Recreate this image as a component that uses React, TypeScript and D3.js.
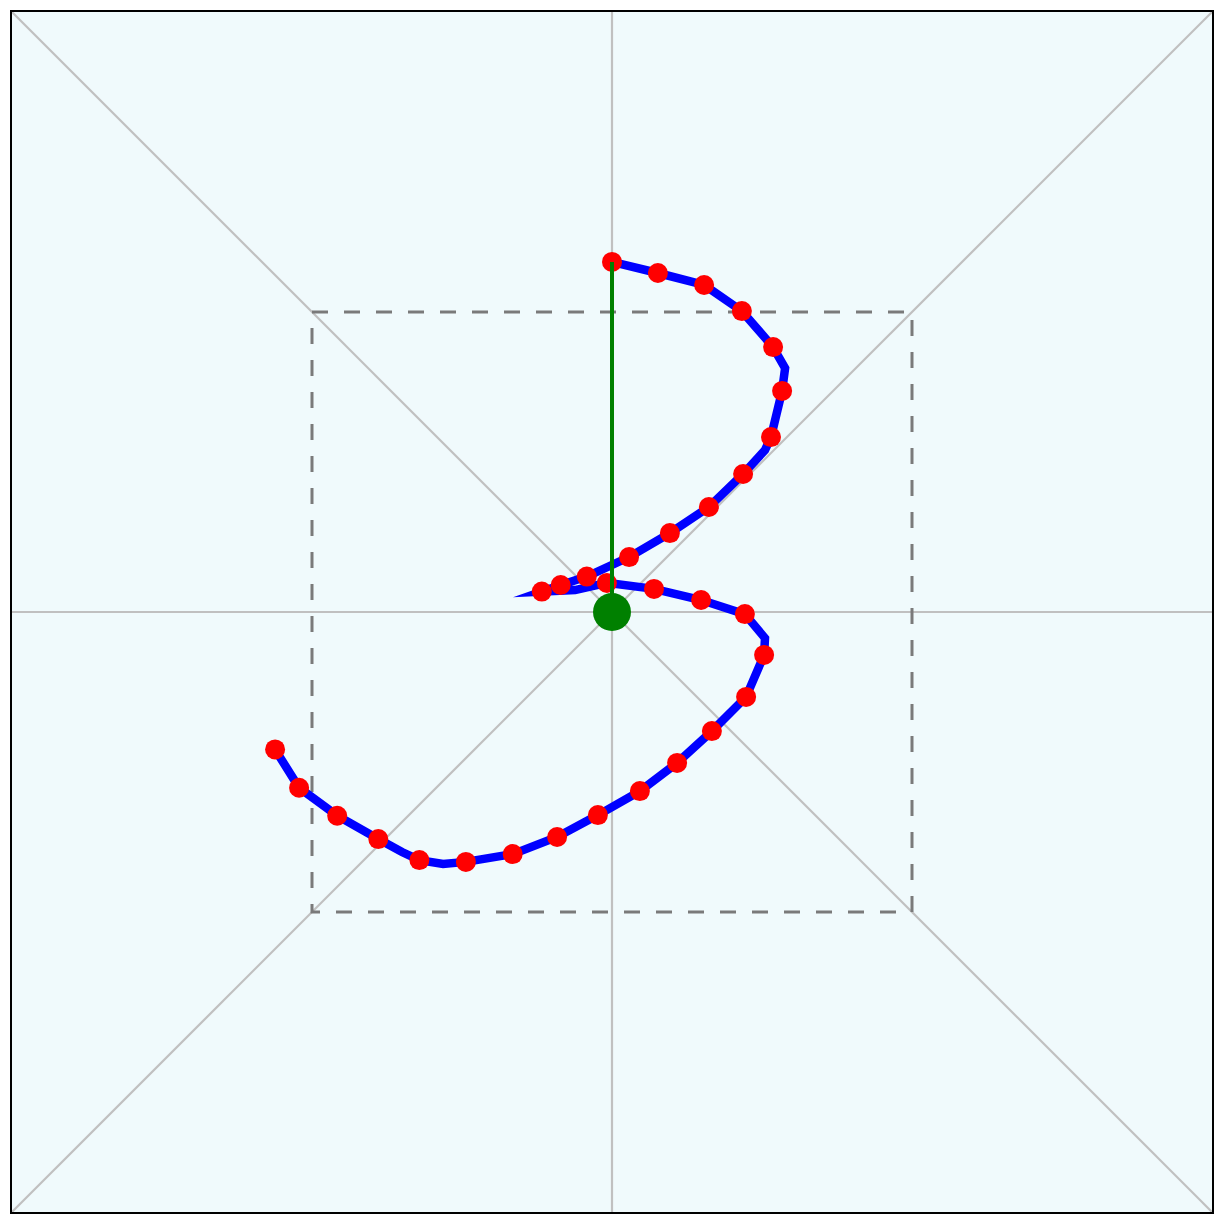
import React from 'react';
import * as d3 from 'd3';

// stroke of the pen, in plot units (dashed square = -1..1, y up)
const strokePath: [number, number][] = [
  [0, 1.167], [0.153, 1.13], [0.307, 1.09], [0.433, 1.003], [0.537, 0.883],
  [0.577, 0.813], [0.567, 0.737], [0.53, 0.583], [0.51, 0.54], [0.437, 0.46],
  [0.323, 0.35], [0.193, 0.263], [0.057, 0.183], [-0.084, 0.118], [-0.171, 0.09],
  [-0.234, 0.068], [-0.123, 0.073], [-0.017, 0.097], [0.14, 0.077], [0.297, 0.04],
  [0.443, -0.007], [0.51, -0.087], [0.507, -0.143], [0.447, -0.283], [0.333, -0.397],
  [0.217, -0.503], [0.093, -0.597], [-0.047, -0.677], [-0.183, -0.75], [-0.331, -0.807],
  [-0.487, -0.833], [-0.563, -0.84], [-0.642, -0.827], [-0.7, -0.8], [-0.779, -0.757],
  [-0.916, -0.679], [-1.043, -0.586], [-1.123, -0.458],
];

// sampled points along the stroke
const samplePoints: [number, number][] = [
  [0, 1.167], [0.153, 1.13], [0.307, 1.09], [0.433, 1.003], [0.537, 0.883],
  [0.567, 0.737], [0.53, 0.583], [0.437, 0.46], [0.323, 0.35], [0.193, 0.263],
  [0.057, 0.183], [-0.084, 0.118], [-0.171, 0.09], [-0.234, 0.068], [-0.017, 0.097],
  [0.14, 0.077], [0.297, 0.04], [0.443, -0.007], [0.507, -0.143], [0.447, -0.283],
  [0.333, -0.397], [0.217, -0.503], [0.093, -0.597], [-0.047, -0.677], [-0.183, -0.75],
  [-0.331, -0.807], [-0.487, -0.833], [-0.642, -0.827], [-0.779, -0.757], [-0.916, -0.679],
  [-1.043, -0.586], [-1.123, -0.458],
];

const origin: [number, number] = [0, 0];
const pointer: [number, number] = [0, 1.167];

// guide lines: diagonals and center cross
const guides: [number, number, number, number][] = [
  [-2, 2, 2, -2],
  [-2, -2, 2, 2],
  [-2, 0, 2, 0],
  [0, -2, 0, 2],
];

const extent = 2;
const box = 1;

export default function App() {
  const x = d3.scaleLinear().domain([-extent, extent]).range([12, 1212]);
  const y = d3.scaleLinear().domain([-extent, extent]).range([1212, 12]);

  const line = d3
    .line<[number, number]>()
    .x((d) => x(d[0]))
    .y((d) => y(d[1]));

  return (
    <svg
      width={1224}
      height={1226}
      style={{ position: 'absolute', left: 0, top: 0, display: 'block' }}
    >
      <rect
        x={x(-extent)}
        y={y(extent)}
        width={x(extent) - x(-extent)}
        height={y(-extent) - y(extent)}
        fill="#f0fafc"
      />
      {guides.map((g, i) => (
        <line
          key={i}
          x1={x(g[0])}
          y1={y(g[1])}
          x2={x(g[2])}
          y2={y(g[3])}
          stroke="#c0c0c0"
          strokeWidth={2.2}
        />
      ))}
      <rect
        x={x(-box)}
        y={y(box)}
        width={x(box) - x(-box)}
        height={y(-box) - y(box)}
        fill="none"
        stroke="#7a7a7a"
        strokeWidth={3}
        strokeDasharray="16,16"
      />
      <path
        d={line(strokePath) ?? ''}
        fill="none"
        stroke="blue"
        strokeWidth={8.5}
        strokeLinejoin="miter"
        strokeMiterlimit={10}
      />
      {samplePoints.map((p, i) => (
        <circle key={i} cx={x(p[0])} cy={y(p[1])} r={10} fill="red" />
      ))}
      <line
        x1={x(origin[0])}
        y1={y(origin[1])}
        x2={x(pointer[0])}
        y2={y(pointer[1])}
        stroke="green"
        strokeWidth={4}
      />
      <circle cx={x(origin[0])} cy={y(origin[1])} r={19} fill="green" />
      <rect
        x={x(-extent) - 1}
        y={y(extent) - 1}
        width={x(extent) - x(-extent) + 2}
        height={y(-extent) - y(extent) + 2}
        fill="none"
        stroke="black"
        strokeWidth={2}
      />
    </svg>
  );
}
